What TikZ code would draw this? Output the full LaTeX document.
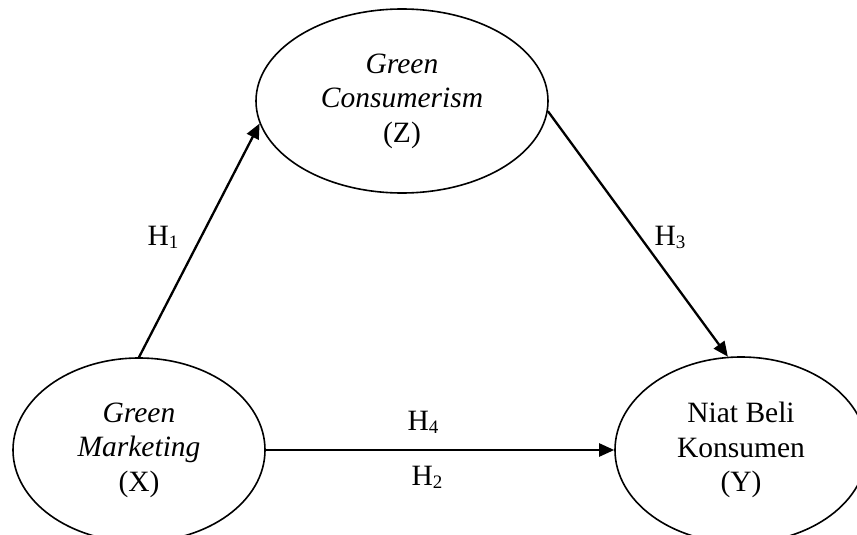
\documentclass[tikz,border=0pt]{standalone}
\usepackage{fontspec}
\setmainfont{Liberation Serif}
\usetikzlibrary{shapes.geometric,arrows.meta}
\newcommand{\sbx}[1]{\raisebox{-0.22ex}{\fontsize{19}{19}\selectfont #1}}
\begin{document}
\begin{tikzpicture}[x=1pt,y=-1pt,
  var/.style={draw,ellipse,line width=1.6pt,inner sep=0pt,align=center,
    font=\fontsize{29.5}{34.5}\selectfont},
  arr/.style={line width=2.3pt,-{Triangle[length=15pt,width=13pt]}},
  lab/.style={font=\fontsize{29.5}{34}\selectfont,inner sep=0pt}]
\useasboundingbox (0,0) rectangle (857,535);
\node[var,minimum width=292pt,minimum height=184pt] (Z) at (402,101)
  {\textit{Green}\\\textit{Consumerism}\\(Z)};
\node[var,minimum width=252pt,minimum height=184pt] (X) at (139,450)
  {\textit{Green}\\\textit{Marketing}\\(X)};
\node[var,minimum width=252pt,minimum height=186pt] (Y) at (741,450)
  {Niat Beli\\Konsumen\\(Y)};
\draw[arr] (X.north) -- (Z.189.5);
\draw[arr] (Z.-4.3) -- (Y.98.6);
\draw[arr] (X.east) -- (Y.west);
\node[lab] (h1) at (163,237) {H\sbx{1}};
\node[lab] (h3) at (670,237) {H\sbx{3}};
\node[lab] (h4) at (423,422) {H\sbx{4}};
\node[lab] (h2) at (427,477) {H\sbx{2}};
\end{tikzpicture}
\end{document}
